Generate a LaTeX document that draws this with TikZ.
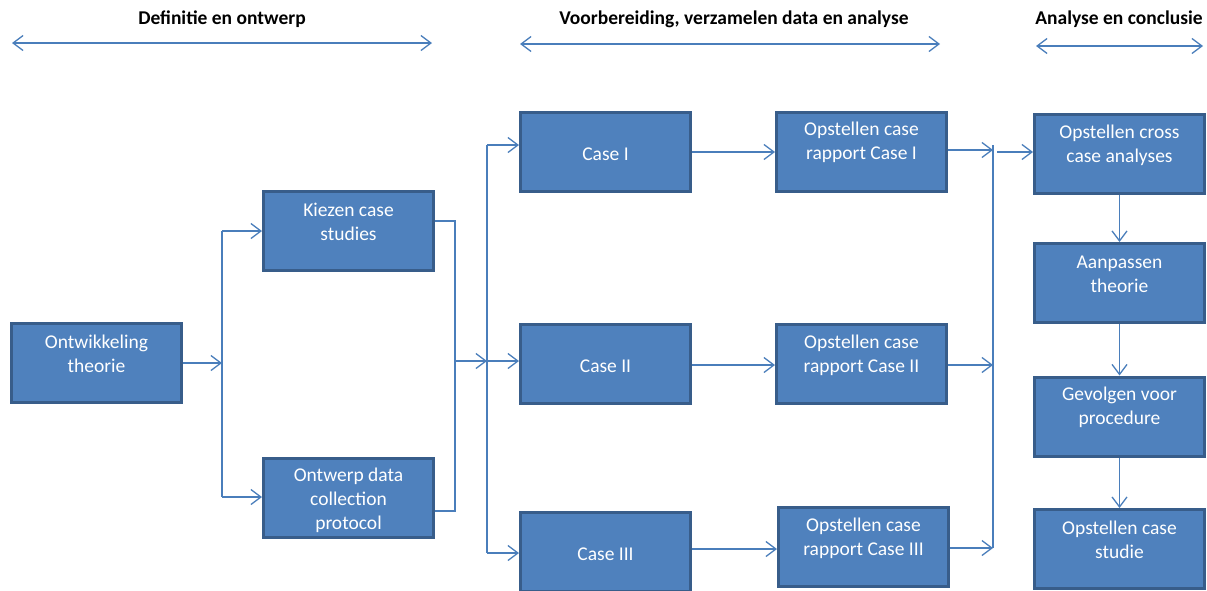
\documentclass[tikz,border=0pt]{standalone}
\usepackage{fontspec}
\setmainfont{Carlito}
\usetikzlibrary{arrows.meta}
\definecolor{boxfill}{HTML}{4F81BD}
\definecolor{boxline}{HTML}{385D8A}
\definecolor{conn}{HTML}{4A7EBB}
\tikzset{
  stepbox/.style={draw=boxline, line width=3pt, fill=boxfill, minimum width=170pt, minimum height=79pt,
    inner sep=0pt},
  boxtext/.style={text=white, align=center, inner sep=0pt, font=\fontsize{19.5}{24}\selectfont},
  two/.style={label={[boxtext, yshift=9pt]center:{#1}}},
  one/.style={label={[boxtext, yshift=-2pt]center:{#1}}},
  conline/.style={draw=conn, line width=1.3pt},
  arr/.style={conline, -{Straight Barb[length=10pt,width=15pt,line width=1.3pt]}},
  dblarr/.style={conline, {Straight Barb[length=10pt,width=15pt,line width=1.3pt]}-{Straight Barb[length=10pt,width=15pt,line width=1.3pt]}},
  head/.style={font=\fontsize{19.5}{24}\selectfont\bfseries, text=black, inner sep=0pt}
}
\begin{document}
\begin{tikzpicture}[x=1pt,y=-1pt]
\useasboundingbox (0,0) rectangle (1207,590);
% headers
\node[head] (h1) at (222,19) {Definitie en ontwerp};
\node[head] (h2) at (734,19) {Voorbereiding, verzamelen data en analyse};
\node[head] (h3) at (1119,19) {Analyse en conclusie};
\coordinate (a1l) at (12,43); \coordinate (a1r) at (432,43);
\coordinate (a2l) at (520,44); \coordinate (a2r) at (940,44);
\coordinate (a3l) at (1036,46); \coordinate (a3r) at (1203,46);
\draw[dblarr] (a1l) -- (a1r);
\draw[dblarr] (a2l) -- (a2r);
\draw[dblarr] (a3l) -- (a3r);
% boxes
\node[stepbox, two={Ontwikkeling\\theorie}] (ont) at (96.5,363) {};
\node[stepbox, two={Kiezen case\\studies}] (kie) at (348.5,231) {};
\node[stepbox, one={Ontwerp data\\collection\\protocol}] (owp) at (348.5,498) {};
\node[stepbox, one={Case I}] (c1) at (605.5,152) {};
\node[stepbox, one={Case II}] (c2) at (605.5,364) {};
\node[stepbox, one={Case III}] (c3) at (605.5,552) {};
\node[stepbox, two={Opstellen case\\rapport Case I}] (r1) at (861.5,151.5) {};
\node[stepbox, two={Opstellen case\\rapport Case II}] (r2) at (861.5,364) {};
\node[stepbox, two={Opstellen case\\rapport Case III}] (r3) at (863.5,547) {};
\node[stepbox, two={Opstellen cross\\case analyses}] (x1) at (1119.5,154) {};
\node[stepbox, two={Aanpassen\\theorie}] (aan) at (1119.5,283) {};
\node[stepbox, two={Gevolgen voor\\procedure}] (gev) at (1119.5,416.5) {};
\node[stepbox, two={Opstellen case\\studie}] (stu) at (1119.5,549) {};
% split 1
\coordinate (j1t) at (222,231);
\coordinate (j1b) at (222,497);
\draw[conline] (j1t) -- (j1b);
\draw[arr] (ont.east) -- (ont.east -| j1t);
\draw[arr] (j1t) -- (kie.west |- j1t);
\draw[arr] (j1b) -- (owp.west |- j1b);
% merge 1
\coordinate (m1) at (455,221);
\coordinate (m2) at (455,511);
\coordinate (m3) at (455,361);
\draw[conline] (kie.east |- m1) -- (m1) -- (m2) -- (owp.east |- m2);
% split 2
\coordinate (s1t) at (487,145);
\coordinate (s1m) at (487,361);
\coordinate (s1b) at (487,553);
\draw[conline] (s1t) -- (s1b);
\draw[arr] (m3) -- (s1m);
\draw[arr] (s1t) -- (c1.west |- s1t);
\draw[arr] (s1m) -- (c2.west |- s1m);
\draw[arr] (s1b) -- (c3.west |- s1b);
% cases to reports
\draw[arr] (c1.east |- 0,152) -- (r1.west |- 0,152);
\draw[arr] (c2.east |- 0,365) -- (r2.west |- 0,365);
\draw[arr] (c3.east |- 0,549) -- (r3.west |- 0,549);
% merge 2
\coordinate (n1) at (993,150);
\coordinate (n2) at (993,365);
\coordinate (n3) at (993,548);
\coordinate (n0) at (993,145);
\coordinate (o1) at (997,152);
\draw[conline] (n0) -- (n3);
\draw[arr] (r1.east |- n1) -- (n1);
\draw[arr] (r2.east |- n2) -- (n2);
\draw[arr] (r3.east |- n3) -- (n3);
\draw[arr] (o1) -- (x1.west |- o1);
% vertical chain
\draw[arr] (x1.south) -- (aan.north);
\draw[arr] (aan.south) -- (gev.north);
\draw[arr] (gev.south) -- (stu.north);
\end{tikzpicture}
\end{document}
